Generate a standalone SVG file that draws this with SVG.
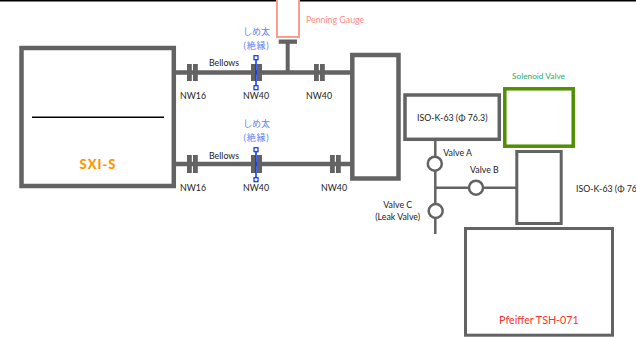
<svg xmlns="http://www.w3.org/2000/svg" width="636" height="337" viewBox="0 0 636 337">
<style>
text{font-family:"Lato","Noto Sans CJK JP",sans-serif;font-size:8.8px;fill:#222}
.box{fill:#fff;stroke:#636363}
.pipe{stroke:#636363;fill:none}
.fl{fill:#636363}
.valve{fill:#fff;stroke:#636363;stroke-width:2.5}
.h{fill:#fff;stroke:#0433ff;stroke-width:1.2}
.jp{fill:#5f80f5;text-anchor:middle;font-size:9px}
.jw{letter-spacing:.8px}
.m{text-anchor:middle}
</style>
<rect width="636" height="337" fill="#fff"/>
<rect width="636" height="1.5" fill="#000"/>
<g id="connectors">
<path class="pipe" stroke-width="4.5" d="M176 72.5H352M176 164H352"/>
<path class="pipe" stroke-width="4" d="M287.7 42V72"/>
<path class="pipe" stroke-width="2.5" d="M435.3 141V234M435.3 187.7H516"/>
<g class="fl">
<rect x="187" y="64" width="4.8" height="17"/><rect x="193" y="64" width="4.8" height="17"/>
<rect x="251" y="64" width="5" height="17"/><rect x="257" y="64" width="5" height="17"/>
<rect x="314" y="64" width="4.8" height="17"/><rect x="320" y="64" width="4.8" height="17"/>
<rect x="278.7" y="39.5" width="18.3" height="4.3"/>
<rect x="187" y="155" width="4.8" height="18"/><rect x="193" y="155" width="4.8" height="18"/>
<rect x="251" y="155" width="5" height="18"/><rect x="257" y="155" width="5" height="18"/>
<rect x="330" y="155" width="4.8" height="18"/><rect x="336" y="155" width="4.8" height="18"/>
</g>
</g>
<g id="sxi">
<rect class="box" x="21.5" y="48" width="152.3" height="138" stroke-width="4.5"/>
<path d="M32 117.2H164" stroke="#000" stroke-width="1.5"/>
<text class="m" x="98" y="168.5" style="font-size:13px;font-weight:900;fill:#ff9500;letter-spacing:1px">SXI-S</text>
</g>
<g id="chamber"><rect class="box" x="352.3" y="55" width="46.2" height="123.5" stroke-width="4.5"/></g>
<g id="iso-box"><rect class="box" x="405" y="95" width="94.3" height="44.3" stroke-width="3.5"/>
<text x="417" y="120.7">ISO-K-63 (Φ 76.3)</text></g>
<g id="solenoid"><rect x="504.8" y="88.8" width="68.4" height="57.4" fill="#fff" stroke="#4f8f00" stroke-width="3.5"/>
<text x="512" y="78.5" style="fill:#1fae5f;font-size:8.3px">Solenoid Valve</text></g>
<g id="lower-box"><rect class="box" x="516.8" y="151.5" width="44.4" height="72" stroke-width="3"/>
<text x="576" y="191.7">ISO-K-63 (Φ 76.3)</text></g>
<g id="pfeiffer"><rect class="box" x="465.5" y="228.5" width="147" height="106.7" stroke-width="3"/>
<text x="499" y="323.7" style="fill:#f4352b;font-size:10.7px">Pfeiffer TSH-071</text></g>
<g id="penning"><rect x="277" y="-5" width="22" height="42" fill="#fff" stroke="#ff9a94" stroke-width="2"/>
<text x="306" y="23" style="fill:#ff8d85">Penning Gauge</text></g>
<g id="valve-a"><circle class="valve" cx="434.8" cy="163.7" r="7"/><text x="443.3" y="155.7">Valve A</text></g>
<g id="valve-b"><circle class="valve" cx="476" cy="187.7" r="7"/><text x="470" y="172.7">Valve B</text></g>
<g id="valve-c"><circle class="valve" cx="435.7" cy="211" r="7"/><text class="m" x="397.7" y="208">Valve C</text><text class="m" x="397.7" y="220">(Leak Valve)</text></g>
<g id="labels">
<text x="209" y="66">Bellows</text><text x="209" y="159">Bellows</text>
<text x="180" y="99">NW16</text><text x="243" y="99">NW40</text><text x="306" y="99">NW40</text>
<text x="180" y="190.7">NW16</text><text x="243" y="190.7">NW40</text><text x="321" y="190.7">NW40</text>
</g>
<g id="wire-top">
<text class="jp" x="256.5" y="35">しめ太</text><text class="jp jw" x="256.5" y="49">(絶縁)</text>
<path d="M256 58V88" stroke="#0433ff" stroke-width="1.5"/>
<rect class="h" x="254" y="55.7" width="4" height="4"/><rect class="h" x="254" y="85.7" width="4" height="4"/>
</g>
<g id="wire-bottom">
<text class="jp" x="256.5" y="126.7">しめ太</text><text class="jp jw" x="256.5" y="140.7">(絶縁)</text>
<path d="M256 150V180" stroke="#0433ff" stroke-width="1.5"/>
<rect class="h" x="254" y="147.7" width="4" height="4"/><rect class="h" x="254" y="177.7" width="4" height="4"/>
</g>
</svg>
